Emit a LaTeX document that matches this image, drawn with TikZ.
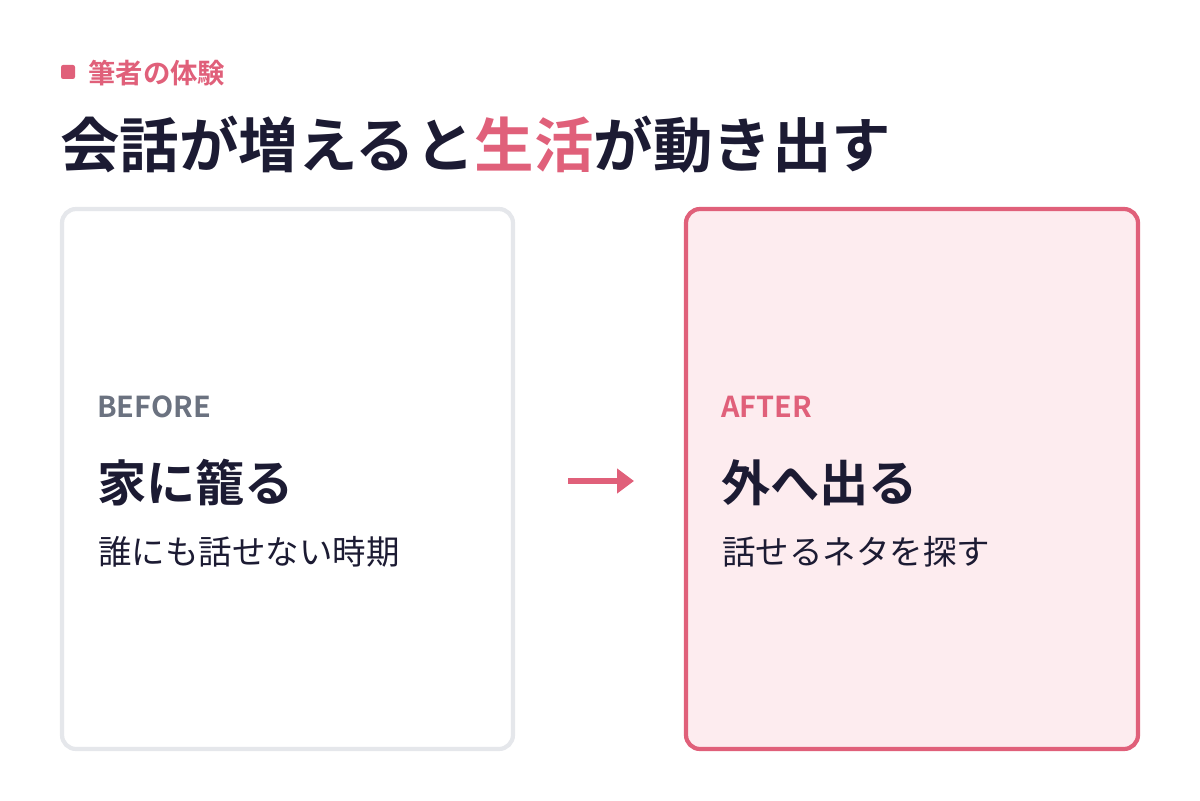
\documentclass[tikz,border=0pt]{standalone}
\usepackage{fontspec}
\setmainfont{Noto Sans CJK JP}[BoldFont=* Bold]
\usetikzlibrary{arrows.meta, positioning}
\definecolor{accent}{HTML}{E0607A}
\definecolor{ink}{HTML}{1C1B33}
\definecolor{mute}{HTML}{6B7280}
\definecolor{edge}{HTML}{E5E7EB}
\definecolor{blush}{HTML}{FDECEF}
\begin{document}
\begin{tikzpicture}[
        x=0.025cm, y=-0.025cm,
        txt/.style={anchor=west, inner sep=0pt, text=ink},
        card/.style={rounded corners=10pt, line width=3pt},
        tag/.style={txt, font=\fontsize{20.5}{24}\selectfont\bfseries},
        head/.style={txt, font=\fontsize{35}{40}\selectfont\bfseries},
        sub/.style={txt, font=\fontsize{23.8}{28}\selectfont},
        arrow/.style={-{Triangle[length=12pt,width=17pt]}, line width=4.5pt, accent}
    ]
        \useasboundingbox (0,0) rectangle (1200,800);

        % Title
        \fill[accent, rounded corners=1.5pt] (61,65) rectangle (75,79);
        \node[txt, text=accent, font=\fontsize{19.5}{22}\selectfont\bfseries] (kicker) at (88,73) {筆者の体験};
        \node[txt, font=\fontsize{42.3}{48}\selectfont\bfseries] (title) at (60,145)
            {会話が増えると\textcolor{accent}{生活}が動き出す};

        % Cards
        \draw[card, edge, fill=white] (62,209) rectangle (513,749);
        \draw[card, accent, fill=blush] (686,209) rectangle (1138,749);

        % Before
        \node[tag, text=mute] (before) at (97,407) {BEFORE};
        \node[head] (home) at (97,483) {家に籠る};
        \node[sub] (silent) at (98,552) {誰にも話せない時期};

        % After
        \node[tag, text=accent] (after) at (721,407) {AFTER};
        \node[head] (out) at (721,483) {外へ出る};
        \node[sub] (topic) at (722,552) {話せるネタを探す};

        % Connection
        \coordinate (a) at (568,481);
        \coordinate (b) at (634,481);
        \draw[arrow] (a) -- (b);
\end{tikzpicture}
\end{document}
